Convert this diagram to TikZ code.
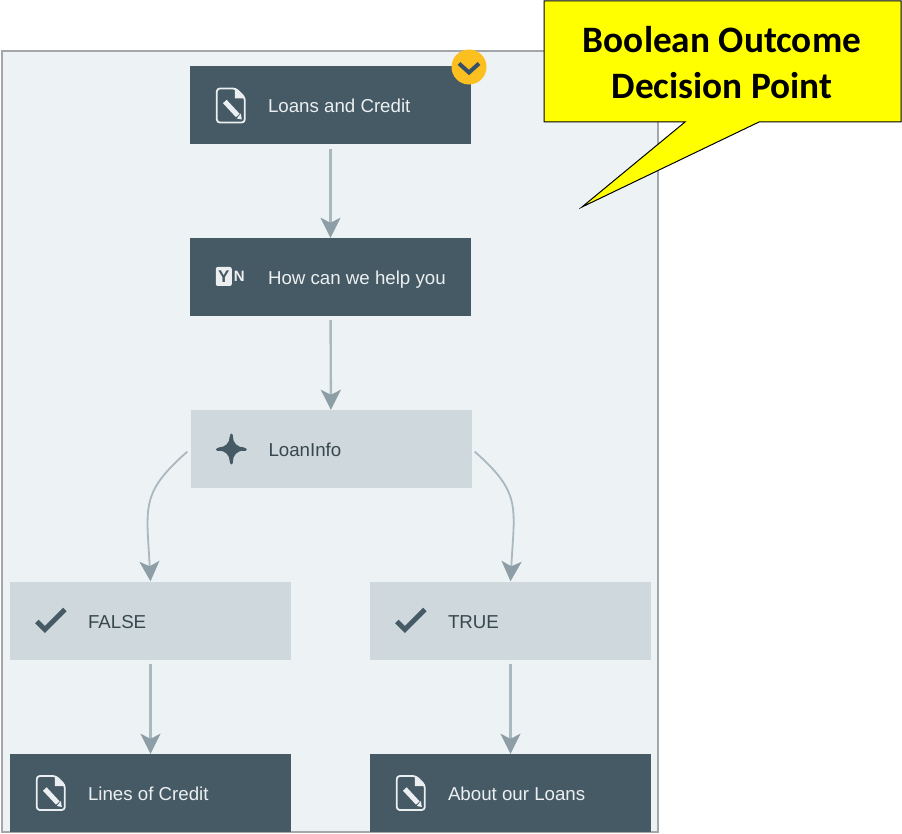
\documentclass[tikz,border=0pt]{standalone}
\usepackage{fontspec}
\setmainfont{Liberation Sans}
\newfontfamily\calloutfont{Carlito}
\usetikzlibrary{arrows.meta}
\definecolor{panelbg}{HTML}{EDF2F5}
\definecolor{panelline}{HTML}{A4A7A9}
\definecolor{darkbg}{HTML}{455A64}
\definecolor{lightbg}{HTML}{CFD8DC}
\definecolor{darktext}{HTML}{37474F}
\definecolor{lighttext}{HTML}{ECEFF1}
\definecolor{flowline}{HTML}{AAB8C0}
\definecolor{flowhead}{HTML}{8D9EA6}
\definecolor{badge}{HTML}{FBBF1F}
\definecolor{chevron}{HTML}{37506A}
\definecolor{calloutbg}{RGB}{255,255,0}
\tikzset{
  flowbox/.style={minimum width=281pt, minimum height=78pt, inner sep=0pt},
  darkbox/.style={flowbox, fill=darkbg},
  lightbox/.style={flowbox, fill=lightbg},
  darklabel/.style={anchor=base west, inner sep=0pt, text=lighttext, font=\fontsize{18.7}{22}\selectfont},
  lightlabel/.style={anchor=base west, inner sep=0pt, text=darktext, font=\fontsize{18.7}{22}\selectfont},
  flow/.style={draw=flowline, line width=2.4pt, shorten <=4pt,
    -{Stealth[length=20pt, width=20pt, inset=5pt, color=flowhead]}},
  pics/docicon/.style={code={
    \draw[lighttext, line width=1.8pt, line join=round, rounded corners=3pt]
      (-14,-17) -- (5,-17) -- (14,-8) -- (14,17) -- (-14,17) -- cycle;
    \fill[lighttext] (4,-17) -- (14,-7) -- (4,-7) -- cycle;
    \draw[lighttext, line width=5pt] (-6,-4) -- (7,10);
    \fill[lighttext] (6,13) -- (11,14) -- (10,8) -- cycle;
  }},
  pics/ynicon/.style={code={
    \fill[lighttext, rounded corners=2pt] (-15,-10) rectangle (1,9);
    \node[inner sep=0pt, text=darkbg, font=\bfseries\fontsize{17}{17}\selectfont] (ynleft) at (-7,-0.5) {Y};
    \node[inner sep=0pt, text=lighttext, font=\bfseries\fontsize{15}{15}\selectfont] (ynright) at (8.5,-0.5) {N};
  }},
  pics/starticon/.style={code={
    \fill[darkbg] (-13,-1.5) .. controls (-6,-1.5) and (-1.5,-6) .. (-1.5,-13)
      -- (1.5,-13) .. controls (1.5,-6) and (6,-1.5) .. (13,-1.5)
      -- (13,1.5) .. controls (6,1.5) and (1.5,6) .. (1.5,13)
      -- (-1.5,13) .. controls (-1.5,6) and (-6,1.5) .. (-13,1.5) -- cycle;
    \draw[darkbg, line width=3pt, line cap=round] (-14,0) -- (14,0) (0,-14) -- (0,14);
  }},
  pics/checkicon/.style={code={
    \draw[darkbg, line width=5pt] (-14,1) -- (-6,9) -- (14,-11);
  }},
}
\begin{document}
\begin{tikzpicture}[x=1pt, y=-1pt]
  \useasboundingbox (0,0) rectangle (902,834);

  \draw[fill=panelbg, draw=panelline, line width=1.8pt] (2,51) rectangle (658,832);

  \foreach \n/\x/\y/\ic/\t in {loans/330.5/105.5/docicon/Loans and Credit,
                               help/330.5/277/ynicon/How can we help you,
                               lines/150.5/793/docicon/Lines of Credit,
                               about/510.5/793/docicon/About our Loans} {
    \node[darkbox] (\n) at (\x,\y) {};
    \node[darklabel] (\n-text) at ([shift={(78,7.5)}]\n.west) {\t};
    \pic at ([xshift=41pt]\n.west) {\ic};
  }
  \foreach \n/\x/\y/\ic/\t in {info/331/449/starticon/LoanInfo,
                               false/150.5/620.5/checkicon/FALSE,
                               true/510.5/620.5/checkicon/TRUE} {
    \node[lightbox] (\n) at (\x,\y) {};
    \node[lightlabel] (\n-text) at ([shift={(78,7.5)}]\n.west) {\t};
    \pic at ([xshift=41pt]\n.west) {\ic};
  }

  \draw[flow] (loans) -- (help);
  \draw[flow] (help) -- (info);
  \draw[flow] (false) -- (lines);
  \draw[flow] (true) -- (about);
  \draw[flow, line width=1.8pt] (info.west) .. controls +(-50,44) and +(-4,-75) .. (false.north);
  \draw[flow, line width=1.8pt] (info.east) .. controls +(50,44) and +(4,-75) .. (true.north);

  \node[circle, fill=badge, minimum size=35pt, inner sep=0pt] (toggle) at (469,67) {};
  \draw[chevron, line width=4pt] ([shift={(-10,-3.5)}]toggle.center) -- ([shift={(0,5.5)}]toggle.center)
    -- ([shift={(10,-3.5)}]toggle.center);

  \coordinate (boxnw) at (544,1);
  \coordinate (boxse) at (901,122);
  \coordinate (tip) at (582,207);
  \draw[fill=calloutbg, draw=black, line width=1pt] (boxnw) -| (boxse) -- (759,122) -- (tip) -- (685,122) -| cycle;
  \node[align=center, inner sep=0pt, font=\calloutfont\bfseries\fontsize{37.3}{46}\selectfont] (callout)
    at (722,63) {Boolean Outcome\\Decision Point};
\end{tikzpicture}
\end{document}
